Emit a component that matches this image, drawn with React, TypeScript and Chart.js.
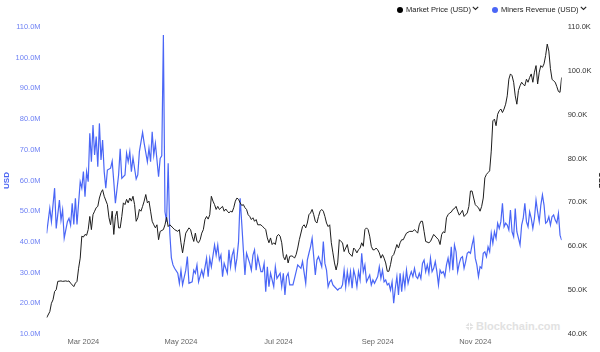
import React, { useEffect, useRef } from "react";
import { Chart, registerables } from "chart.js";

Chart.register(...registerables);

// x values are day offsets from 2024-02-07
const START_DATE = "2024-02-07";
const LAST_DAY = 322;
const xTickDays = [23, 84, 145, 207, 268];
const xTickLabels = ["Mar 2024", "May 2024", "Jul 2024", "Sep 2024", "Nov 2024"];

// Market Price (USD), thousands
const priceDays = [0,2,3,4,5,6,7,9,10,12,13,14,15,17,18,19,20,21,22,23,24,25,26,27,28,29,30,31,32,33,34,35,36,38,39,40,41,42,43,44,45,46,47,48,49,50,51,52,53,54,55,56,57,58,59,60,61,62,63,64,65,66,67,68,69,70,71,73,74,75,76,77,79,80,82,83,84,85,86,87,89,90,91,92,93,94,95,96,97,98,99,100,101,102,103,104,105,106,107,108,110,111,112,113,114,115,116,117,118,119,120,121,122,123,124,125,126,127,128,129,130,131,132,134,135,136,137,138,139,140,141,142,143,144,145,146,147,148,149,150,151,152,153,154,155,156,157,158,160,161,162,163,164,165,166,167,168,169,170,171,172,173,174,175,176,177,178,179,180,181,182,183,184,185,186,187,188,189,191,192,193,194,195,196,197,198,199,200,201,202,203,204,205,206,207,208,209,210,211,212,213,214,215,216,217,218,219,220,221,222,223,224,225,226,227,229,230,231,232,233,234,235,236,237,239,240,241,242,244,245,246,247,248,249,250,251,252,253,254,255,256,257,258,259,260,261,263,264,265,266,267,268,269,270,271,272,273,274,275,276,277,278,279,280,281,282,283,284,285,286,287,288,289,290,291,292,293,294,295,296,297,298,299,300,301,302,303,304,305,306,307,308,309,310,311,312,313,314,315,316,317,318,319,320,321,322];
const priceValues = [43.7,45.1,47.0,47.8,49.7,50.1,52.0,52.1,52.0,52.1,52.0,52.1,51.6,50.8,51.6,52.0,55.0,57.3,62.3,62.1,62.7,62.5,63.8,66.8,63.8,67.2,68.0,68.8,69.1,71.0,72.2,72.9,71.4,69.5,66.5,64.9,68.0,62.7,66.8,68.0,64.2,64.2,66.8,69.9,69.5,70.7,69.9,71.0,70.3,71.4,69.5,65.7,66.5,68.4,68.0,69.1,70.3,71.8,69.9,70.3,68.0,65.7,64.9,64.2,64.9,61.5,63.4,63.8,64.9,66.6,64.5,64.9,64.2,63.8,63.4,63.8,60.8,58.5,60.8,63.0,64.2,63.8,62.3,61.1,63.0,61.1,60.8,61.5,63.0,63.8,66.1,66.8,66.2,67.2,71.4,70.3,69.5,68.4,69.1,68.4,69.1,68.0,68.5,68.0,67.6,68.0,67.8,68.8,70.3,71.0,70.7,69.9,69.3,69.5,68.8,68.4,67.2,66.8,66.1,66.5,65.7,66.1,64.9,64.9,64.5,64.2,63.8,61.9,60.8,61.9,60.4,60.8,60.4,62.3,62.7,62.3,60.8,57.7,56.9,58.1,56.2,57.7,57.8,57.7,57.3,58.1,59.6,61.5,64.5,64.9,64.2,65.3,67.2,67.6,68.4,67.2,65.7,65.3,66.8,68.0,68.4,68.0,66.8,65.3,64.5,64.9,60.8,58.5,56.2,54.6,56.2,61.5,61.1,60.8,58.8,59.6,60.4,58.5,57.7,59.6,59.2,58.5,59.2,59.6,60.8,60.0,63.8,64.2,63.8,62.3,60.0,59.2,59.2,59.6,59.2,58.5,57.3,58.1,57.3,56.2,54.3,54.3,55.8,57.7,58.1,59.2,60.4,59.6,60.8,61.5,61.5,62.3,63.0,63.2,63.4,63.4,63.8,63.4,63.0,64.9,65.7,65.7,63.4,61.1,60.8,61.1,61.9,62.7,61.9,61.5,60.4,62.7,63.3,63.1,66.5,67.2,67.6,67.8,68.4,68.6,69.1,68.0,67.1,67.6,68.2,66.8,67.6,69.1,72.6,72.6,71.0,69.5,69.1,68.8,68.0,69.1,71.0,75.6,76.4,76.8,77.2,81.7,88.6,89.0,87.5,90.1,90.9,91.3,90.5,91.3,92.4,94.3,98.1,99.3,98.9,97.4,94.3,92.4,95.5,96.6,97.4,96.9,96.6,98.1,97.4,98.5,99.3,97.4,99.7,101.2,97.0,99.7,101.2,100.8,101.6,103.5,106.1,104.5,100.5,98.1,97.7,97.4,96.4,95.3,95.1,98.5];

// Miners Revenue (USD), millions
const revenueDays = [0,2,3,5,6,8,9,10,11,13,14,15,16,17,18,19,21,22,23,24,25,26,27,28,29,30,31,32,33,34,35,36,37,38,40,41,42,43,45,46,47,49,50,51,52,53,54,56,57,58,60,61,63,64,65,66,67,68,70,71,72,73,74,75,76,77,78,79,80,82,83,84,85,87,88,89,91,92,93,94,95,97,98,100,101,102,103,105,106,107,108,109,110,111,113,114,115,116,117,118,119,120,121,122,123,124,125,127,128,129,130,131,132,134,135,136,137,138,139,140,142,143,144,146,147,148,149,150,151,152,154,155,157,159,160,162,163,164,165,166,167,168,169,170,171,172,173,174,175,176,177,178,179,180,182,183,184,185,186,187,188,189,190,191,192,193,194,195,196,197,198,199,200,201,202,203,204,205,207,208,209,210,211,212,213,214,215,216,217,218,219,220,221,222,223,224,225,226,227,228,229,230,231,232,233,234,235,236,237,238,239,240,241,242,243,244,245,246,247,248,249,250,251,252,253,254,255,256,257,258,259,260,261,262,263,264,265,266,267,268,269,270,271,272,273,274,275,276,277,278,279,280,281,282,283,284,285,286,287,288,289,290,291,292,293,294,295,296,297,298,299,300,301,302,303,304,305,306,307,308,309,310,311,312,313,314,315,316,317,318,319,320,321,322];
const revenueValues = [42.8,51.0,46.6,57.5,44.4,53.6,47.1,50.4,41.2,46.6,47.7,45.5,52.6,45.7,54.2,45.7,59.6,57.5,62.9,54.7,62.9,59.6,75.4,66.1,78.1,68.3,74.3,64.5,78.6,66.7,73.2,62.9,57.5,63.4,64.0,66.3,59.6,52.6,61.8,70.3,60.7,61.8,68.9,66.1,69.4,62.9,67.4,60.5,61.8,69.4,75.7,72.1,66.1,70.5,66.1,75.9,68.3,72.1,61.2,67.2,68.0,107.4,49.8,46.6,65.6,43.0,34.8,32.5,31.4,29.8,26.5,30.8,26.0,30.8,35.2,26.5,27.0,30.8,29.8,32.5,27.0,30.8,28.7,34.7,28.7,34.7,31.9,39.0,35.7,39.0,34.1,35.7,28.7,33.0,29.8,37.4,31.9,35.7,37.4,31.4,34.7,40.1,54.2,46.1,37.4,29.2,36.3,33.0,30.8,35.7,37.4,30.8,35.2,30.3,30.3,33.0,23.8,31.9,25.4,29.8,25.4,31.9,28.1,29.8,25.4,29.8,22.7,28.7,29.8,26.0,26.0,28.1,32.5,31.4,33.6,26.5,34.1,36.3,38.4,41.2,35.2,29.2,34.1,35.2,33.6,31.9,40.1,33.0,30.8,25.4,27.0,27.6,26.0,25.4,24.3,24.9,24.9,26.0,30.8,25.4,30.3,26.5,30.3,24.9,30.8,28.7,25.4,30.3,27.6,36.3,30.3,32.5,27.0,28.1,29.2,26.0,27.6,26.5,28.7,31.9,28.1,30.8,27.0,27.6,26.0,26.5,24.3,27.0,20.0,24.9,28.7,22.7,29.8,23.8,29.2,25.4,30.8,26.5,28.7,30.3,28.7,31.4,28.7,28.1,29.8,28.1,33.0,34.1,30.3,32.5,29.8,34.7,30.3,31.4,33.6,30.3,26.0,30.8,29.8,30.3,28.7,32.5,34.7,31.4,38.4,30.8,39.0,36.8,30.3,33.0,34.7,35.2,31.4,33.6,36.3,36.8,36.3,39.0,41.2,34.7,32.5,28.7,31.9,31.4,36.3,36.8,35.2,38.4,36.8,42.8,39.5,43.3,41.2,46.1,44.4,46.6,52.6,44.9,46.1,45.5,43.9,50.4,43.3,41.7,50.9,43.3,41.2,39.0,45.5,47.7,52.6,46.6,44.9,49.8,47.7,44.4,47.7,53.6,49.8,46.6,52.0,55.3,52.0,46.1,46.6,48.2,45.5,48.2,48.8,47.1,46.1,49.3,42.2,40.6];

const FONT = '"Liberation Sans", Arial, Helvetica, sans-serif';
const BLUE = "#4a66f6";
const BLACK = "#1e1e1e";
const TICK_PAD_Y = 6;
const TICK_PAD_X = 3.5;

function Chevron() {
  return (
    <svg width="7" height="5" style={{ marginLeft: 1, marginTop: -3 }}>
      <polyline points="0.8,0.8 3.5,3.5 6.2,0.8" fill="none" stroke="#222" strokeWidth="1.1" />
    </svg>
  );
}

function Dot({ color }: { color: string }) {
  return (
    <span
      style={{
        display: "inline-block",
        width: 6,
        height: 6,
        borderRadius: 3,
        background: color,
        marginRight: 3,
      }}
    />
  );
}

export default function App() {
  const canvasRef = useRef<HTMLCanvasElement | null>(null);

  useEffect(() => {
    if (!canvasRef.current) return;
    const chart = new Chart(canvasRef.current, {
      type: "line",
      data: {
        datasets: [
          {
            label: "Market Price (USD)",
            data: priceDays.map((d, i) => ({ x: d, y: priceValues[i] })),
            borderColor: BLACK,
            borderWidth: 1,
            pointRadius: 0,
            tension: 0,
            yAxisID: "yPrice",
          },
          {
            label: "Miners Revenue (USD)",
            data: revenueDays.map((d, i) => ({ x: d, y: revenueValues[i] })),
            borderColor: BLUE,
            borderWidth: 1.2,
            pointRadius: 0,
            tension: 0,
            yAxisID: "yRev",
          },
        ],
      },
      options: {
        responsive: false,
        animation: false,
        layout: { padding: { top: 27, bottom: 5.5, left: 0, right: 0 } },
        plugins: { legend: { display: false }, tooltip: { enabled: false } },
        scales: {
          x: {
            type: "linear",
            min: 0,
            max: LAST_DAY,
            grid: { display: false, drawTicks: false },
            border: { display: false },
            afterBuildTicks: (scale: any) => {
              scale.ticks = xTickDays.map((v) => ({ value: v }));
            },
            afterFit: (scale: any) => {
              scale.height -= TICK_PAD_X;
            },
            ticks: {
              autoSkip: false,
              maxRotation: 0,
              padding: TICK_PAD_X,
              color: "#666",
              font: { family: FONT, size: 7.5 },
              callback: (v: any) => {
                const i = xTickDays.indexOf(Number(v));
                return i >= 0 ? xTickLabels[i] : "";
              },
            },
          },
          yRev: {
            type: "linear",
            position: "left",
            min: 10,
            max: 110,
            grid: { display: false, drawTicks: false },
            border: { display: false },
            afterFit: (scale: any) => {
              scale.width -= TICK_PAD_Y;
            },
            ticks: {
              stepSize: 10,
              padding: TICK_PAD_Y,
              color: "#6f82f4",
              font: { family: FONT, size: 7.5 },
              callback: (v: any) => Number(v).toFixed(1) + "M",
            },
            title: {
              display: true,
              text: "USD",
              color: "#4a64f2",
              font: { family: FONT, size: 8, weight: "bold" },
              padding: { top: 2, bottom: 4 },
            },
          },
          yPrice: {
            type: "linear",
            position: "right",
            min: 40,
            max: 110,
            grid: { display: false, drawTicks: false },
            border: { display: false },
            afterFit: (scale: any) => {
              scale.width -= TICK_PAD_Y;
            },
            ticks: {
              stepSize: 10,
              padding: TICK_PAD_Y,
              color: "#333",
              font: { family: FONT, size: 7.5 },
              callback: (v: any) => Number(v).toFixed(1) + "K",
            },
            title: {
              display: true,
              text: "USD",
              color: "#111",
              font: { family: FONT, size: 8, weight: "bold" },
              padding: { top: 2, bottom: 5 },
            },
          },
        },
      },
    });
    return () => chart.destroy();
  }, []);

  return (
    <div
      style={{
        position: "fixed",
        left: 0,
        top: 0,
        width: 600,
        height: 352,
        overflow: "hidden",
        background: "#fff",
        fontFamily: FONT,
      }}
      data-start={START_DATE}
    >
      <div
        style={{
          position: "absolute",
          left: 465,
          top: 320,
          display: "flex",
          alignItems: "center",
          color: "#e2e2e2",
          fontWeight: "bold",
          fontSize: 11,
          lineHeight: "13px",
        }}
      >
        <svg width="9" height="9" style={{ marginRight: 2 }}>
          <polygon points="4.5,0 9,4.5 4.5,9 0,4.5" fill="#e2e2e2" />
          <line x1="0" y1="4.5" x2="9" y2="4.5" stroke="#fff" strokeWidth="1" />
          <line x1="4.5" y1="0" x2="4.5" y2="9" stroke="#fff" strokeWidth="1" />
        </svg>
        <span>Blockchain.com</span>
      </div>
      <div style={{ position: "absolute", left: 0, top: 0, width: 608, height: 352 }}>
        <canvas ref={canvasRef} width={608} height={352} />
      </div>
      <div
        style={{
          position: "absolute",
          left: 397,
          top: 4,
          height: 11,
          display: "flex",
          alignItems: "center",
          fontSize: 7.5,
          color: "#222",
          whiteSpace: "nowrap",
        }}
      >
        <Dot color="#000" />
        <span>Market Price (USD)</span>
        <Chevron />
        <span style={{ width: 13 }} />
        <Dot color={BLUE} />
        <span>Miners Revenue (USD)</span>
        <Chevron />
      </div>
    </div>
  );
}
